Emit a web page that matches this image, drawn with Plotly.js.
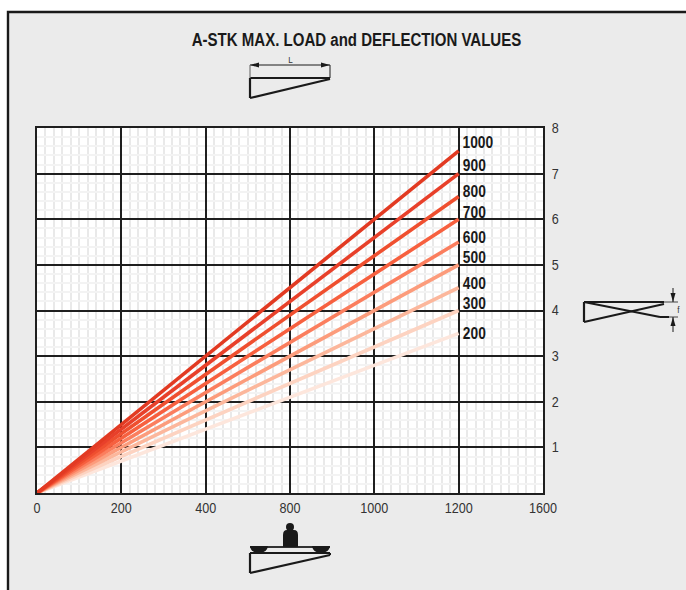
<!DOCTYPE html>
<html><head><meta charset="utf-8">
<script src="https://cdn.plot.ly/plotly-3.0.1.min.js"></script>
<style>html,body{margin:0;padding:0;background:#fff;overflow:hidden}#c{width:686px;height:590px}</style>
</head><body><div id="c"></div>
<script>
const W=686,H=590;
const seriesNames=['200','300','400','500','600','700','800','900','1000'];
const seriesEnd=[3.5,4,4.5,5,5.5,6,6.5,7,7.5];
const seriesColors=['#fde6dc','#fdd3c1','#fcb79c','#fc9c7c','#fb7e5e','#f7603f','#ef4f2f','#e8402a','#e23a22'];
const xTickLabels=['0','200','400','800','1000','1200','1600'];
const xStart=0, xEnd=1200;
const yTicks=[1,2,3,4,5,6,7,8];
const labelPx=[333,303,283,257,237,212,192,165,143];
const slot=v=>xTickLabels.indexOf(String(v));
const M={l:37,r:143,t:128,b:97};
const pxx=x=>(x-M.l)/(W-M.l-M.r), pyy=y=>1-(y-M.t)/(H-M.t-M.b);
const FONT='"Liberation Sans",Arial,sans-serif';
const traces=seriesNames.map((n,i)=>({type:'scatter',mode:'lines',name:n,
  x:[slot(xStart),slot(xEnd)],y:[0,seriesEnd[i]],
  line:{color:seriesColors[i],width:3.6},hoverinfo:'skip',cliponaxis:false}));
const seg=(x0,y0,x1,y1,w,c)=>({type:'line',xref:'paper',yref:'paper',x0:pxx(x0),y0:pyy(y0),x1:pxx(x1),y1:pyy(y1),line:{color:c||'#1a1a1a',width:w||2}});
const poly=(pts,fill)=>({type:'path',xref:'paper',yref:'paper',
  path:'M'+pts.map(p=>pxx(p[0])+','+pyy(p[1])).join('L')+'Z',fillcolor:fill||'#1a1a1a',line:{width:0}});
const rect=(x0,y0,x1,y1,fill,lw,lc,layer)=>({type:'rect',xref:'paper',yref:'paper',layer:layer||'above',x0:pxx(x0),y0:pyy(y0),x1:pxx(x1),y1:pyy(y1),fillcolor:fill,line:{width:lw||0,color:lc||'#1a1a1a'}});
const circle=(x0,y0,x1,y1)=>({type:'circle',xref:'paper',yref:'paper',x0:pxx(x0),y0:pyy(y0),x1:pxx(x1),y1:pyy(y1),fillcolor:'#1a1a1a',line:{width:0}});
const bowl=(x0,x1,y0,y1)=>{const m=(x0+x1)/2;return {type:'path',xref:'paper',yref:'paper',
  path:`M${pxx(x0)},${pyy(y0)}L${pxx(x1)},${pyy(y0)}Q${pxx(x1-1)},${pyy(y1)} ${pxx(m)},${pyy(y1)}Q${pxx(x0+1)},${pyy(y1)} ${pxx(x0)},${pyy(y0)}Z`,fillcolor:'#1a1a1a',line:{width:0}}};
const shapes=[
  rect(8,12,700,610,'#ebebeb',2.4,'#1a1a1a','below'),
  rect(M.l,M.t,W-M.r,H-M.b,'#ffffff',0,'#000','below'),
  // top icon
  seg(250,78,330,78,2), seg(250,78,250,98,2.2), seg(250,98,330,79,2.2),
  seg(250,65,330,65,1), seg(250,65,250,78,1.2,'#777'), seg(330,65,330,78,1),
  poly([[250,65],[259,62.5],[259,67.5]]), poly([[330,65],[321,62.5],[321,67.5]]),
  // deflection icon
  seg(584,302,664,302,2.2), seg(584,302,584,322,2.2), seg(584,322,664,304,2),
  seg(584,302,660,317,2), seg(660,317,669,317,2),
  seg(664,302,678,302,0.8), seg(669,317,678,317,0.8),
  seg(673,288,673,302,1), seg(673,317,673,332,1),
  poly([[673,302],[670.5,293],[675.5,293]]), poly([[673,317],[670.5,326],[675.5,326]]),
  // load icon
  seg(250,553,330,553,2), seg(250,553,250,573,2.2), seg(250,573,330,555,2.2), seg(330,553,330,555,2),
  seg(250,547,330,547,1.8,'#333'),
  bowl(250,268,546,553), bowl(312,330,546,553),
  circle(286,523,294,531),
  {type:'path',xref:'paper',yref:'paper',path:`M${pxx(283)},${pyy(547)}L${pxx(283)},${pyy(535)}Q${pxx(283)},${pyy(530)} ${pxx(287)},${pyy(530)}L${pxx(294)},${pyy(530)}Q${pxx(298)},${pyy(530)} ${pxx(298)},${pyy(535)}L${pxx(298)},${pyy(547)}Z`,fillcolor:'#1a1a1a',line:{width:0}}
];
const annotations=seriesNames.map((n,i)=>({xref:'paper',yref:'paper',x:pxx(n==='1000'?458:458.5),y:pyy(labelPx[i]),xanchor:'left',yanchor:'middle',showarrow:false,
  text:n,font:{family:FONT,size:16,color:'#1a1a1a',weight:700}}));
annotations.push({xref:'paper',yref:'paper',x:pxx(290),y:pyy(59.5),xanchor:'center',yanchor:'middle',showarrow:false,text:'L',font:{family:FONT,size:9,color:'#333'}});
annotations.push({xref:'paper',yref:'paper',x:pxx(675),y:pyy(310),xanchor:'left',yanchor:'middle',showarrow:false,text:'f',font:{family:FONT,size:9,color:'#333'}});
const axisFont={family:FONT,size:14,color:'#333'};
const layout={
  width:W,height:H,margin:{l:M.l,r:M.r,t:M.t,b:M.b,pad:0},
  paper_bgcolor:'#ffffff',plot_bgcolor:'#ffffff',showlegend:false,
  title:{text:'A-STK MAX. LOAD and DEFLECTION VALUES',x:356.5/W,xanchor:'center',y:1-40/H,yanchor:'middle',
    font:{family:FONT,size:18,color:'#1a1a1a',weight:700}},
  xaxis:{range:[0,6],tickmode:'array',tickvals:xTickLabels.map((_,i)=>i),ticktext:xTickLabels,
    showgrid:true,gridcolor:'#1f1f1f',gridwidth:2,zeroline:false,showline:true,linecolor:'#1f1f1f',linewidth:2,mirror:true,
    ticks:'',ticklabelstandoff:1,tickfont:axisFont,
    minor:{dtick:0.1,tick0:0,showgrid:true,gridcolor:'#e9e9e9',gridwidth:2,ticks:''}},
  yaxis:{range:[0,8],side:'right',tickmode:'array',tickvals:yTicks,ticktext:yTicks.map(String),
    showgrid:true,gridcolor:'#1f1f1f',gridwidth:2,zeroline:false,showline:true,linecolor:'#1f1f1f',linewidth:2,mirror:true,
    ticks:'',ticklabelstandoff:4,tickfont:axisFont,
    minor:{dtick:0.2,tick0:0,showgrid:true,gridcolor:'#f3f3f3',gridwidth:2,ticks:''}},
  shapes,annotations
};
Plotly.newPlot('c',traces,layout,{displayModeBar:false,staticPlot:true}).then(gd=>{
  // no condensed face is installed: narrow the real text with SVG textLength
  gd.querySelectorAll('svg text').forEach(t=>{
    const s=t.textContent;
    if(!s) return;
    const f=s.startsWith('A-STK')?0.835:(/^\d+$/.test(s)&&t.closest('.annotation')?0.86:0.9);
    t.setAttribute('lengthAdjust','spacingAndGlyphs');
    t.setAttribute('textLength',(t.getComputedTextLength()*f).toFixed(2));
  });
});
</script></body></html>
